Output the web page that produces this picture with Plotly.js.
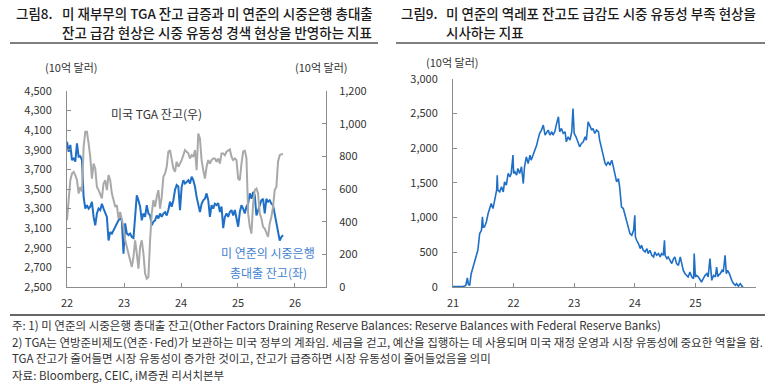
<!DOCTYPE html>
<html>
<head>
<meta charset="utf-8">
<script src="https://cdn.plot.ly/plotly-3.0.1.min.js"></script>
<style>
html,body{margin:0;padding:0;background:#fff;}
#chart{width:773px;height:388px;}
</style>
</head>
<body>
<div id="chart"></div>
<script>
// ---- Data ----
// Left chart: weekly-ish samples from early 2022 to ~Oct 2025
const leftStart = 22.0;
const leftEnd = 25.79;
const reserveBalances = [3982,3880,3950,3795,3810,3780,3965,3830,3835,3795,3420,3300,3335,3300,3320,3370,3215,3130,3250,3300,3285,3350,3300,3265,3215,2975,3060,3045,3080,3115,3150,3180,3200,3180,2840,3150,3045,3030,3045,3010,3000,3250,3435,3385,3320,3180,3250,3215,3335,3250,3230,3130,3165,3180,3230,3200,3250,3215,3250,3265,3230,3285,3370,3320,3385,3490,3540,3525,3285,3520,3590,3555,3575,3590,3555,3625,3590,3525,3420,3335,3265,3350,3385,3400,3455,3385,3215,3335,3300,3350,3335,3355,3265,3320,3100,3215,3250,3215,3265,3285,3230,3285,3215,3115,3265,3335,3300,3250,3320,3350,3455,3400,3470,3435,3230,3285,3335,3385,3400,3250,3400,3370,3385,3350,3335,3250,3180,3080,2975,3010,3030];
const tgaBalance = [409,532,654,695,705,685,654,572,613,583,858,951,951,879,797,664,756,726,613,593,572,542,634,654,593,685,654,572,532,491,501,419,460,409,368,286,245,205,153,123,184,286,205,112,245,286,205,82,51,61,286,450,532,491,552,593,480,552,675,695,736,828,838,777,726,705,767,736,756,777,807,838,828,818,787,807,797,838,715,940,910,777,715,664,736,777,756,777,787,787,767,787,756,818,818,807,828,838,842,797,777,787,777,664,654,756,828,838,787,450,368,327,511,593,603,572,450,419,368,358,337,307,389,429,491,593,613,767,807,813,813];
const leftTickVals = [22,23,24,25,26];
const leftTickText = ['22','23','24','25','26'];

// Right chart: Fed reverse repo balance
const rrpYear = [21.00,21.055,21.11,21.165,21.21,21.237,21.253,21.275,21.30,21.33,21.36,21.385,21.41,21.44,21.47,21.485,21.50,21.52,21.55,21.58,21.61,21.63,21.66,21.69,21.72,21.73,21.74,21.77,21.80,21.83,21.85,21.88,21.91,21.94,21.96,21.99,22.00,22.02,22.05,22.07,22.10,22.13,22.16,22.18,22.21,22.24,22.27,22.29,22.32,22.35,22.38,22.40,22.43,22.46,22.49,22.52,22.54,22.57,22.60,22.63,22.65,22.68,22.71,22.74,22.76,22.79,22.82,22.85,22.87,22.90,22.93,22.96,22.98,23.00,23.03,23.07,23.09,23.12,23.15,23.18,23.20,23.23,23.26,23.29,23.31,23.34,23.37,23.40,23.42,23.45,23.48,23.51,23.53,23.56,23.59,23.62,23.64,23.67,23.70,23.73,23.75,23.78,23.81,23.84,23.87,23.89,23.92,23.95,23.98,24.00,24.01,24.03,24.06,24.09,24.11,24.14,24.17,24.20,24.22,24.25,24.28,24.31,24.33,24.36,24.39,24.42,24.44,24.47,24.49,24.50,24.53,24.55,24.58,24.61,24.64,24.66,24.69,24.72,24.75,24.77,24.80,24.83,24.86,24.88,24.91,24.94,24.97,24.98,25.00,25.02,25.05,25.08,25.10,25.13,25.16,25.19,25.21,25.24,25.26,25.27,25.30,25.33,25.35,25.37,25.38,25.41,25.44,25.46,25.49,25.51,25.53,25.56,25.60,25.63,25.66,25.68,25.71,25.74,25.77,25.79];
const rrpBalance = [5,3,5,8,20,130,40,24,192,288,385,481,529,769,817,1010,860,865,937,1058,1130,1202,1130,1250,1394,1610,1394,1370,1442,1370,1514,1466,1635,1587,1635,1899,1635,1659,1610,1707,1635,1731,1490,1731,1875,1779,1899,1827,1899,1947,2043,2115,2212,2260,2332,2188,2212,2260,2188,2236,2188,2236,2356,2452,2236,2284,2212,2236,2091,2163,2115,2236,2572,2212,2163,2043,2019,2067,2091,2163,2115,2380,2308,2260,2284,2212,2260,2236,2115,1995,1923,1779,1755,1803,1755,1827,1755,1635,1514,1562,1442,1154,1130,1034,937,865,769,745,817,1034,721,673,625,553,601,529,505,553,481,529,457,433,505,457,481,433,481,457,673,457,409,433,385,337,409,433,337,312,433,337,240,192,168,144,216,144,120,481,144,168,144,96,72,120,168,192,144,409,130,96,168,144,288,150,168,192,240,216,457,192,240,192,96,48,24,48,10,48,10,5];
const rightTickVals = [21,22,23,24,25,26];
const rightTickText = ['21','22','23','24','25',''];

// ---- Helpers ----
const W = 773, H = 388;
const px = x => x / W;
const py = y => 1 - y / H;
function spanX(start, end, n){ const a=[]; for(let i=0;i<n;i++) a.push(start + (end-start)*i/(n-1)); return a; }

const FONT = '"Noto Sans CJK KR", "Noto Sans", sans-serif';
const BLUE = '#1f6fc6';
const GRAY = '#a9a9a9';
const AX = '#8c8c8c';

const traces = [
  {x: spanX(leftStart, leftEnd, tgaBalance.length), y: tgaBalance, xaxis:'x', yaxis:'y2', mode:'lines',
   line:{color:GRAY, width:2}, hoverinfo:'skip'},
  {x: spanX(leftStart, leftEnd, reserveBalances.length), y: reserveBalances, xaxis:'x', yaxis:'y', mode:'lines',
   line:{color:BLUE, width:2}, hoverinfo:'skip'},
  {x: rrpYear, y: rrpBalance, xaxis:'x2', yaxis:'y3', mode:'lines',
   line:{color:BLUE, width:1.6}, hoverinfo:'skip'}
];

const tickFont = {family: FONT, size: 11, color: '#333'};
const baseAxis = {showgrid:false, zeroline:false, showline:true, linecolor:AX, linewidth:1,
  ticks:'inside', ticklen:4, tickcolor:AX, tickfont:tickFont, fixedrange:true};

const layout = {
  width: W, height: H,
  margin: {l:0, r:0, t:0, b:0},
  paper_bgcolor: '#fff', plot_bgcolor: 'rgba(0,0,0,0)',
  showlegend: false,
  xaxis: Object.assign({}, baseAxis, {domain:[px(67), px(326)], range:[22, 26.544],
    tickvals:leftTickVals, ticktext:leftTickText, anchor:'y', ticklabelstandoff:6}),
  yaxis: Object.assign({}, baseAxis, {domain:[py(287), py(91)], range:[2500, 4500], dtick:200,
    tick0:2500, tickformat:',d', anchor:'x', ticklabelstandoff:12}),
  yaxis2: Object.assign({}, baseAxis, {domain:[py(287), py(91)], range:[0, 1200], dtick:200,
    tickformat:',d', overlaying:'y', side:'right', anchor:'x', ticklabelstandoff:10}),
  xaxis2: Object.assign({}, baseAxis, {domain:[px(453), px(756)], range:[21, 26],
    tickvals:rightTickVals, ticktext:rightTickText, anchor:'y3', ticklabelstandoff:6}),
  yaxis3: Object.assign({}, baseAxis, {domain:[py(287), py(78.7)], range:[0, 3000], dtick:500,
    tickformat:',d', anchor:'x2', ticklabelstandoff:12}),
  shapes: [
    {type:'line', xref:'paper', yref:'paper', x0:px(10), x1:px(378), y0:py(43), y1:py(43), line:{color:'#555', width:1.5}},
    {type:'line', xref:'paper', yref:'paper', x0:px(396), x1:px(765), y0:py(43), y1:py(43), line:{color:'#555', width:1.5}},
    {type:'line', xref:'paper', yref:'paper', x0:px(10), x1:px(765), y0:py(315), y1:py(315), line:{color:'#666', width:2}}
  ],
  annotations: []
};

function note(text, x, y, opts){
  layout.annotations.push(Object.assign({text:text, xref:'paper', yref:'paper', x:px(x), y:py(y),
    xanchor:'left', yanchor:'middle', showarrow:false, borderpad:0,
    font:{family:FONT, size:11, color:'#333'}}, opts||{}));
}

const titleFont = {family:FONT, size:13.5, color:'#1a1a1a', weight:500};
note('그림8.', 15, 13, {font:titleFont});
note('미 재부무의 TGA 잔고 급증과 미 연준의 시중은행 총대출', 61, 13, {font:titleFont});
note('잔고 급감 현상은 시중 유동성 경색 현상을 반영하는 지표', 61, 32, {font:titleFont});
note('그림9.', 400, 13, {font:titleFont});
note('미 연준의 역레포 잔고도 급감도 시중 유동성 부족 현상을', 445, 13, {font:titleFont});
note('시사하는 지표', 445, 32, {font:titleFont});

note('(10억 달러)', 44, 67);
note('(10억 달러)', 294, 67);
note('(10억 달러)', 425, 62);

note('미국 TGA 잔고(우)', 110, 113, {font:{family:FONT, size:12, color:'#333'}});
note('미 연준의 시중은행', 268, 252, {xanchor:'center', font:{family:FONT, size:12, color:'#3f7fd0'}});
note('총대출 잔고(좌)', 268, 272, {xanchor:'center', font:{family:FONT, size:12, color:'#3f7fd0'}});

const fnFont = {family:FONT, size:11.5, color:'#333'};
note('주: 1) 미 연준의 시중은행 총대출 잔고(Other Factors Draining Reserve Balances: Reserve Balances with Federal Reserve Banks)', 11, 325, {font:fnFont});
note('2) TGA는 연방준비제도(연준·Fed)가 보관하는 미국 정부의 계좌임. 세금을 걷고, 예산을 집행하는 데 사용되며 미국 재정 운영과 시장 유동성에 중요한 역할을 함.', 11, 341.5, {font:fnFont});
note('TGA 잔고가 줄어들면 시장 유동성이 증가한 것이고, 잔고가 급증하면 시장 유동성이 줄어들었음을 의미', 11, 358, {font:fnFont});
note('자료: Bloomberg, CEIC, iM증권 리서치본부', 11, 374.5, {font:fnFont});

Plotly.newPlot('chart', traces, layout, {staticPlot:true, displayModeBar:false});
</script>
</body>
</html>
